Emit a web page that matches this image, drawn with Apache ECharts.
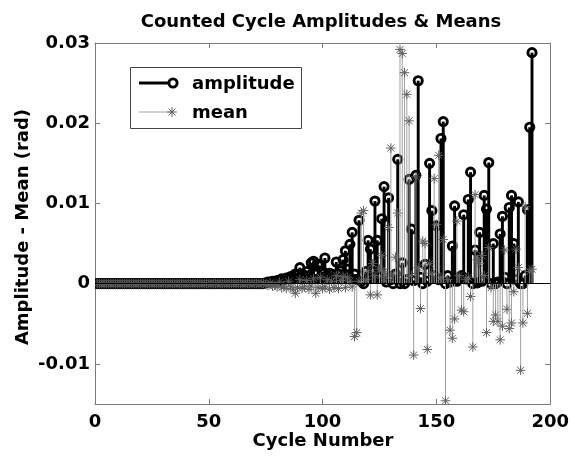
<!DOCTYPE html>
<html>
<head>
<meta charset="utf-8">
<script src="https://cdn.jsdelivr.net/npm/echarts@6/dist/echarts.min.js"></script>
<style>html,body{margin:0;padding:0;background:#fff}#c{width:572px;height:461px}</style>
</head>
<body>
<div id="c"></div>
<script>
// ---- data (cycle 1 .. 192) ----
const firstCycle = 1;
const amplitude = [
  0,0,0,0,0,0,0,0,0,0,
  0,0,0,0,0,0,0,0,0,0,
  0,0,0,0,0,0,0,0,0,0,
  0,0,0,0,0,0,0,0,0,0,
  0,0,0,0,0,0,0,0,0,0,
  0,0,0,0,0,0,0,0,0,0,
  0,0,0,0,0,0,0,0,0,0,
  0,0,0,0,0.0001,0.0002,0.0002,0.0003,0.0002,0.0004,
  0.0004,0.0006,0.0005,0.0007,0.0006,0.0009,0.0008,0.0012,0.0011,0.0020,
  0.0012,0.0008,0.0015,0.0010,0.0026,0.0028,0.0012,0.0024,0.0022,0.0015,
  0.0032,0.0010,0.0013,0.0012,0.0008,0.0027,0.0012,0.0016,0.0030,0.0041,
  0.0018,0.0049,0.0064,0.0012,0.0005,0.0079,0.0003,0.0000,0.0015,0.0054,
  0.0043,0.0015,0.0103,0.0054,0.0008,0.0081,0.0121,0.0002,0.0107,0.0005,
  0.0000,0.0012,0.0155,0.0000,0.0026,0.0000,0.0005,0.0130,0.0068,0.0004,
  0.0135,0.0253,0.0008,0.0000,0.0024,0.0003,0.0150,0.0091,0.0010,0.0072,
  0.0005,0.0181,0.0202,0.0000,0.0010,0.0002,0.0047,0.0097,0.0003,0.0008,
  0.0010,0.0086,0.0006,0.0105,0.0139,0.0000,0.0042,0.0001,0.0064,0.0003,
  0.0110,0.0093,0.0151,0.0000,0.0050,0.0000,0.0002,0.0062,0.0084,0.0008,
  0.0000,0.0095,0.0110,0.0050,0.0005,0.0102,0.0000,0.0000,0.0010,0.0092,
  0.0195,0.0288
];
const mean = [
  0,0,0,0,0,0,0,0,0,0,
  0,0,0,0,0,0,0,0,0,0,
  0,0,0,0,0,0,0,0,0,0,
  0,0,0,0,0,0,0,0,0,0,
  0,0,0,0,0,0,0,0,0,0,
  0,0,0,0,0,0,0,0,0,0,
  0,0,0,0,0,0,0,0,0,0,
  0,0,0,0,-0.0001,-0.0002,0.0001,-0.0003,-0.0002,-0.0004,
  0.0002,-0.0005,-0.0003,-0.0006,0.0003,-0.0004,-0.0007,-0.0012,-0.0005,0.0005,
  -0.0006,-0.0004,0.0004,-0.0007,-0.0003,0.0006,-0.0012,-0.0005,0.0008,-0.0006,
  -0.0004,0.0005,-0.0007,0.0003,-0.0005,0.0010,-0.0006,0.0004,0.0009,-0.0005,
  0.0008,0.0003,-0.0004,-0.0066,-0.0061,0.0003,0.0088,0.0091,0.0005,0.0016,
  -0.0014,0.0025,0.0010,-0.0014,0.0018,0.0035,0.0015,0.0008,0.0070,0.0169,
  0.0012,0.0033,0.0088,0.0292,0.0287,0.0263,0.0236,0.0203,0.0010,-0.0089,
  0.0133,0.0020,-0.0031,0.0053,0.0050,-0.0082,0.0025,0.0013,0.0131,0.0074,
  0.0160,0.0008,0.0055,-0.0146,0.0005,-0.0058,-0.0068,-0.0044,0.0078,0.0010,
  -0.0033,-0.0035,0.0005,0.0008,-0.0016,-0.0079,0.0111,0.0030,0.0025,0.0035,
  0.0010,-0.0061,0.0045,-0.0005,-0.0047,-0.0039,-0.0047,-0.0070,-0.0053,0.0042,
  -0.0032,-0.0056,-0.0049,-0.0010,0.0043,0.0020,-0.0108,-0.0049,0.0096,-0.0037,
  0.0015,0.0018
];
const xTicks = [0, 50, 100, 150, 200];
const yTicks = [-0.01, 0, 0.01, 0.02, 0.03];
const titleText = 'Counted Cycle Amplitudes & Means';
const xName = 'Cycle Number';
const yName = 'Amplitude - Mean (rad)';
const legendNames = ['amplitude', 'mean'];

// ---- drawing ----
const FONT = 'bold 18px "DejaVu Sans", sans-serif';
const AXIS_COLOR = '#7a7a7a';
const MEAN_STEM = '#a0a0a0';
const MEAN_MARK = '#5e5e5e';
const CIRCLE_R = 4.1;
const CIRCLE_W = 2.9;
const STEM_W = 2.9;
const STAR_S = 4.8;

function starChildren(cx, cy, s, color) {
  const d = s * 0.72;
  return [
    {type:'line', shape:{x1:cx, y1:cy - s, x2:cx, y2:cy + s}, style:{stroke:color, lineWidth:1}},
    {type:'line', shape:{x1:cx - s, y1:cy, x2:cx + s, y2:cy}, style:{stroke:color, lineWidth:1}},
    {type:'line', shape:{x1:cx - d, y1:cy - d, x2:cx + d, y2:cy + d}, style:{stroke:color, lineWidth:1}},
    {type:'line', shape:{x1:cx - d, y1:cy + d, x2:cx + d, y2:cy - d}, style:{stroke:color, lineWidth:1}}
  ];
}

function ampItem(params, api) {
  const x = api.value(0), v = api.value(1);
  const p = api.coord([x, v]), b = api.coord([x, 0]);
  return {type:'group', children:[
    {type:'line', shape:{x1:b[0], y1:b[1], x2:p[0], y2:p[1]}, style:{stroke:'#000', lineWidth:STEM_W}},
    {type:'circle', shape:{cx:p[0], cy:p[1], r:CIRCLE_R}, style:{fill:'none', stroke:'#000', lineWidth:CIRCLE_W}}
  ]};
}
function meanItem(params, api) {
  const x = api.value(0), v = api.value(1);
  const p = api.coord([x, v]), b = api.coord([x, 0]);
  return {type:'group', children:[
    {type:'line', shape:{x1:b[0], y1:b[1], x2:p[0], y2:p[1]}, style:{stroke:MEAN_STEM, lineWidth:1}}
  ].concat(starChildren(p[0], p[1], STAR_S, MEAN_MARK))};
}

const chart = echarts.init(document.getElementById('c'), null, {renderer:'canvas'});

const tickCommon = {inside:true, length:5, lineStyle:{color:AXIS_COLOR, width:1}};
const lineCommon = {show:true, onZero:false, lineStyle:{color:AXIS_COLOR, width:1}};

const option = {
  animation:false,
  backgroundColor:'#fff',
  grid:{left:95, right:19, top:43, bottom:57, containLabel:false},
  xAxis:[
    {type:'value', min:0, max:200, position:'bottom',
     axisLine:lineCommon, splitLine:{show:false},
     axisTick:Object.assign({customValues:xTicks}, tickCommon),
     axisLabel:{customValues:xTicks, margin:9, color:'#000', fontFamily:'DejaVu Sans', fontWeight:'bold', fontSize:18}},
    {type:'value', min:0, max:200, position:'top',
     axisLine:lineCommon, splitLine:{show:false},
     axisTick:Object.assign({customValues:xTicks}, tickCommon),
     axisLabel:{show:false}}
  ],
  yAxis:[
    {type:'value', min:-0.015, max:0.03, position:'left',
     axisLine:lineCommon, splitLine:{show:false},
     axisTick:Object.assign({customValues:yTicks}, tickCommon),
     axisLabel:{customValues:yTicks, margin:5, color:'#000', fontFamily:'DejaVu Sans', fontWeight:'bold', fontSize:18,
       formatter:function(v){ return Math.abs(v) < 1e-12 ? '0' : v.toFixed(2); }}},
    {type:'value', min:-0.015, max:0.03, position:'right',
     axisLine:lineCommon, splitLine:{show:false},
     axisTick:Object.assign({customValues:yTicks}, tickCommon),
     axisLabel:{show:false}}
  ],
  series:[
    {type:'custom', name:legendNames[0], xAxisIndex:0, yAxisIndex:0, clip:true,
     renderItem:ampItem, data:amplitude.map((v,i)=>[firstCycle + i, v]),
     markLine:{silent:true, symbol:['none','none'], label:{show:false}, animation:false,
       lineStyle:{color:'#000', width:1, type:'solid'}, data:[{yAxis:0}]}},
    {type:'custom', name:legendNames[1], xAxisIndex:0, yAxisIndex:0, clip:true,
     renderItem:meanItem, data:mean.map((v,i)=>[firstCycle + i, v])}
  ],
  graphic:[
    {type:'text', x:321, y:22, z:10, style:{text:titleText, font:FONT, fill:'#000', textAlign:'center', textVerticalAlign:'middle'}},
    {type:'text', x:323, y:441, z:10, style:{text:xName, font:FONT, fill:'#000', textAlign:'center', textVerticalAlign:'middle'}},
    {type:'text', x:23, y:227, rotation:Math.PI/2, z:10, style:{text:yName, font:FONT, fill:'#000', textAlign:'center', textVerticalAlign:'middle'}},
    {type:'group', z:20, children:[
      {type:'rect', shape:{x:130.5, y:67.5, width:171, height:61}, style:{fill:'#fff', stroke:'#444', lineWidth:1}},
      {type:'line', shape:{x1:139, y1:83, x2:172, y2:83}, style:{stroke:'#000', lineWidth:STEM_W}},
      {type:'circle', shape:{cx:173, cy:83, r:CIRCLE_R}, style:{fill:'#fff', stroke:'#000', lineWidth:CIRCLE_W}},
      {type:'text', x:192, y:84, style:{text:legendNames[0], font:FONT, fill:'#000', textAlign:'left', textVerticalAlign:'middle'}},
      {type:'line', shape:{x1:139, y1:112, x2:172, y2:112}, style:{stroke:MEAN_STEM, lineWidth:1}},
      {type:'group', children:starChildren(172, 112, STAR_S, MEAN_MARK)},
      {type:'text', x:192, y:113, style:{text:legendNames[1], font:FONT, fill:'#000', textAlign:'left', textVerticalAlign:'middle'}}
    ]}
  ]
};
chart.setOption(option);
</script>
</body>
</html>
